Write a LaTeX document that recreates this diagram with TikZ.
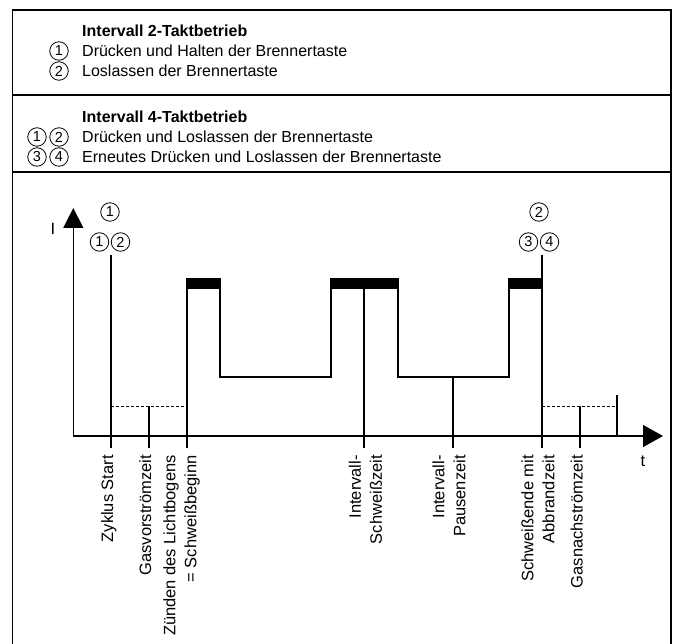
\documentclass[tikz,border=0pt]{standalone}
\usepackage{fontspec}
\setmainfont{Liberation Sans}
\usetikzlibrary{arrows.meta}
\begin{document}
\begin{tikzpicture}[x=1pt,y=-1pt,
  frameline/.style={line width=1.3pt},
  plotline/.style={line width=1.3pt},
  dashline/.style={line width=1pt,dash pattern=on 3pt off 2pt},
  circnum/.style={circle,draw,line width=0.8pt,minimum size=18.5pt,inner sep=0pt,font=\fontsize{14.5}{14.5}\selectfont},
  headtext/.style={anchor=west,inner sep=0pt,font=\fontsize{16}{20}\selectfont},
  headtitle/.style={anchor=west,inner sep=0pt,font=\fontsize{16}{20}\selectfont\bfseries},
  ticklabel/.style={rotate=90,inner sep=0pt,align=right,font=\fontsize{16.5}{21}\selectfont},
  axislabel/.style={inner sep=0pt,font=\fontsize{16.5}{20}\selectfont}]
\useasboundingbox (0,0) rectangle (674,644);
\clip (0,0) rectangle (674,644);
\fill[white] (0,0) rectangle (674,644);

% frame
\coordinate (fbl) at (12.7,660);
\coordinate (ftl) at (12.7,10);
\coordinate (ftr) at (671,10);
\coordinate (fbr) at (671,660);
\draw[frameline] (fbl) -- (ftl) -- (ftr) -- (fbr);
\coordinate (d1l) at (12.7,95);  \coordinate (d1r) at (671,95);
\coordinate (d2l) at (12.7,172); \coordinate (d2r) at (671,172);
\draw[frameline] (d1l) -- (d1r);
\draw[frameline] (d2l) -- (d2r);

% header 1
\node[headtitle] (t1) at (82,31) {Intervall 2-Taktbetrieb};
\node[circnum] (h1a) at (59,51) {1};
\node[headtext] (r1) at (82,51) {Drücken und Halten der Brennertaste};
\node[circnum] (h2a) at (59,71) {2};
\node[headtext] (r2) at (82,71) {Loslassen der Brennertaste};

% header 2
\node[headtitle] (t2) at (82,117) {Intervall 4-Taktbetrieb};
\node[circnum] (h3a) at (37,137) {1};
\node[circnum] (h3b) at (59,137) {2};
\node[headtext] (r3) at (82,137) {Drücken und Loslassen der Brennertaste};
\node[circnum] (h4a) at (37,157) {3};
\node[circnum] (h4b) at (59,157) {4};
\node[headtext] (r4) at (82,157) {Erneutes Drücken und Loslassen der Brennertaste};

% axes
\coordinate (o) at (73.3,436);
\coordinate (ytip) at (73.3,208);
\coordinate (xtip) at (663,436);
\draw[plotline,-{Triangle[length=20pt,width=20pt]}] (o) -- (ytip);
\draw[plotline,-{Triangle[length=20pt,width=22pt]}] (o) -- (xtip);
\node[axislabel] (ylab) at (53,229) {I};
\node[axislabel] (xlab) at (643,461) {t};

% key coordinates
\coordinate (s1top) at (111,255);  \coordinate (s1bot) at (111,448);
\coordinate (gvtop) at (149,406);  \coordinate (gvbot) at (149,448);
\coordinate (zbot) at (187,448);
\coordinate (swtop) at (364,289);  \coordinate (swbot) at (364,448);
\coordinate (pztop) at (453,377);  \coordinate (pzbot) at (453,448);
\coordinate (setop) at (542,255);  \coordinate (sebot) at (542,448);
\coordinate (gntop) at (580,406);  \coordinate (gnbot) at (580,448);
\coordinate (endtop) at (617,395); \coordinate (endbot) at (617,436);
\coordinate (dsh1a) at (111,406);  \coordinate (dsh1b) at (187,406);
\coordinate (dsh2a) at (542,406);  \coordinate (dsh2b) at (617,406);

% current curve
\draw[plotline] (zbot) -- (187,279) -- (220,279) -- (220,377) -- (331,377)
  -- (331,279) -- (398,279) -- (398,377) -- (509,377) -- (509,279) -- (542,279);
\fill (187,279) rectangle (220,289);
\fill (331,279) rectangle (398,289);
\fill (509,279) rectangle (542,289);

% vertical markers
\draw[plotline] (s1top) -- (s1bot);
\draw[plotline] (gvtop) -- (gvbot);
\draw[plotline] (swtop) -- (swbot);
\draw[plotline] (pztop) -- (pzbot);
\draw[plotline] (setop) -- (sebot);
\draw[plotline] (gntop) -- (gnbot);
\draw[plotline] (endtop) -- (endbot);
\draw[dashline] (dsh1a) -- (dsh1b);
\draw[dashline] (dsh2a) -- (dsh2b);

% circled markers in plot
\node[circnum] (p1) at (110,212) {1};
\node[circnum] (p1a) at (99.5,242) {1};
\node[circnum] (p1b) at (120.5,242) {2};
\node[circnum] (p2) at (539,212) {2};
\node[circnum] (p3a) at (528.5,242) {3};
\node[circnum] (p3b) at (549.5,242) {4};

% tick labels
\node[ticklabel,anchor=base east] (l1) at (113,455) {Zyklus Start};
\node[ticklabel,anchor=base east] (l2) at (151,455) {Gasvorströmzeit};
\node[ticklabel,anchor=east] (l3) at (181.5,455) {Zünden des Lichtbogens\\= Schweißbeginn};
\node[ticklabel,anchor=east] (l4) at (365.5,455) {Intervall-\\Schweißzeit};
\node[ticklabel,anchor=east] (l5) at (449,455) {Intervall-\\Pausenzeit};
\node[ticklabel,anchor=east] (l6) at (538,455) {Schweißende mit\\Abbrandzeit};
\node[ticklabel,anchor=base east] (l7) at (582.5,455) {Gasnachströmzeit};
\end{tikzpicture}
\end{document}
